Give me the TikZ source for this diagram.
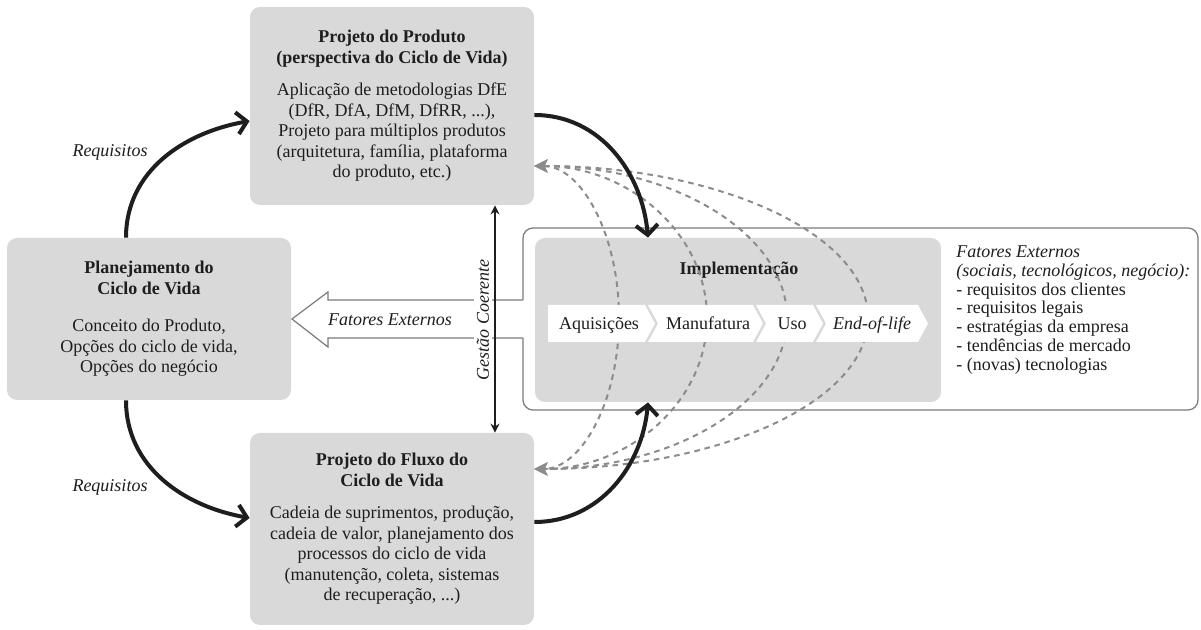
\documentclass[tikz,border=0pt]{standalone}
\usepackage{fontspec}
\setmainfont{Liberation Serif}
\usetikzlibrary{arrows.meta}
\definecolor{boxgray}{HTML}{D9D9D9}
\definecolor{ink}{HTML}{1E1E1E}
\definecolor{framegray}{HTML}{7A7A7A}
\definecolor{dashgray}{HTML}{8C8C8C}
\newcommand\boxfont{\fontsize{9}{10.25}\selectfont}
\newcommand\listfont{\fontsize{9}{9.35}\selectfont}

\begin{document}
\begin{tikzpicture}[x=0.5pt,y=-0.5pt,
  every node/.style={text=ink, font=\boxfont, inner sep=0pt},
  box/.style={fill=boxgray, rounded corners=5pt, align=center},
  heavy/.style={draw=ink, line width=2pt, -{Straight Barb[length=5pt,width=11pt]}},
  feedback/.style={draw=dashgray, line width=1pt, dash pattern=on 2.8pt off 2.4pt,
    {Stealth[length=6.5pt,width=6.5pt,inset=1.5pt]}-{Stealth[length=6.5pt,width=6.5pt,inset=1.5pt]}},
  outline/.style={draw=framegray, line width=0.6pt},
  seg/.style={fill=white},
  label/.style={font=\boxfont\itshape},
]
\useasboundingbox[fill=white] (0,0) rectangle (1201,630);

% frame around the implementation stage, open on the left for the arrow
\draw[outline, rounded corners=5pt] (523,300) -- (523,228) -- (1198,228) -- (1198,410) -- (523,410) -- (523,338);
% hollow arrow of external factors
\draw[outline, fill=white] (523,300) -- (328,300) -- (328,292) -- (292,319) -- (328,347) -- (328,338) -- (523,338);
\node[label] (fe) at (390,320) {Fatores Externos};

% main boxes
\node[box, minimum width=142pt, minimum height=99pt] (prod) at (392,106)
  {\textbf{Projeto do Produto}\\\textbf{(perspectiva do Ciclo de Vida)}\\[6pt]
   Aplicação de metodologias DfE\\(DfR, DfA, DfM, DfRR, ...),\\Projeto para múltiplos produtos\\
   (arquitetura, família, plataforma\\do produto, etc.)};
\node[box, minimum width=142pt, minimum height=81pt] (plan) at (149,319)
  {\textbf{Planejamento do}\\\textbf{Ciclo de Vida}\\[8.5pt]
   Conceito do Produto,\\Opções do ciclo de vida,\\Opções do negócio};
\node[box, minimum width=142pt, minimum height=96pt] (flux) at (392,529)
  {\textbf{Projeto do Fluxo do}\\\textbf{Ciclo de Vida}\\[6pt]
   Cadeia de suprimentos, produção,\\cadeia de valor, planejamento dos\\processos do ciclo de vida\\
   (manutenção, coleta, sistemas\\de recuperação, ...)};
\node[box, minimum width=203pt, minimum height=82pt] (impl) at (738,320) {};
\node[font=\boxfont\bfseries] (impltitle) at (739,270) {Implementação};

% feedback loops from the life cycle phases
\coordinate (fbtop) at ([yshift=-30pt]prod.east);
\coordinate (fbbot) at ([yshift=30pt]flux.east);
\draw[feedback] (fbtop) .. controls (581,166) and (619,234) .. (619,318) .. controls (619,402) and (581,469) .. (fbbot);
\draw[feedback] (fbtop) .. controls (629,166) and (707,234) .. (707,318) .. controls (707,402) and (629,469) .. (fbbot);
\draw[feedback] (fbtop) .. controls (674,166) and (787,234) .. (787,318) .. controls (787,402) and (674,469) .. (fbbot);
\draw[feedback] (fbtop) .. controls (718,166) and (868,234) .. (868,318) .. controls (868,402) and (718,469) .. (fbbot);

% life cycle phases
\fill[seg] (548,305) -- (645,305) -- (655,323.5) -- (645,342) -- (548,342) -- cycle;
\fill[seg] (648,305) -- (753,305) -- (763,323.5) -- (753,342) -- (648,342) -- (658,323.5) -- cycle;
\fill[seg] (756,305) -- (813,305) -- (823,323.5) -- (813,342) -- (756,342) -- (766,323.5) -- cycle;
\fill[seg] (816,305) -- (918,305) -- (928,323.5) -- (918,342) -- (816,342) -- (826,323.5) -- cycle;
\node[anchor=base] (acq) at (599,330) {Aquisições};
\node[anchor=base] (manu) at (708,330) {Manufatura};
\node[anchor=base] (uso) at (792,330) {Uso};
\node[anchor=base, label] (eol) at (872,330) {End-of-life};

% requirement and design flows
\draw[heavy] ([xshift=-11.5pt]plan.north) to[out=90,in=190] ([yshift=-7.5pt]prod.west);
\draw[heavy] ([xshift=-11.5pt]plan.south) to[out=-90,in=170] ([yshift=5.5pt]flux.west);
\draw[heavy] ([yshift=-4.5pt]prod.east) to[out=0,in=95] ([xshift=-45pt]impl.north);
\draw[heavy] ([yshift=3.5pt]flux.east) to[out=0,in=-95] ([xshift=-45pt]impl.south);
\node[label] (req1) at (110,152) {Requisitos};
\node[label] (req2) at (110,487) {Requisitos};

% coherent management
\coordinate (gc) at (495,319);
\node[label, rotate=90, fill=white, inner sep=1.5pt] (gest) at (483,320) {Gestão Coerente};
\draw[ink, line width=1pt, {Stealth[length=4.5pt,width=4.5pt]}-{Stealth[length=4.5pt,width=4.5pt]}]
  (gc |- prod.south) -- (gc |- flux.north);

% external factors list
\node[anchor=west, align=left, font=\listfont] (ext) at (956,310)
  {\textit{Fatores Externos}\\\textit{(sociais, tecnológicos, negócio):}\\
   - requisitos dos clientes\\- requisitos legais\\- estratégias da empresa\\
   - tendências de mercado\\- (novas) tecnologias};
\end{tikzpicture}
\end{document}
